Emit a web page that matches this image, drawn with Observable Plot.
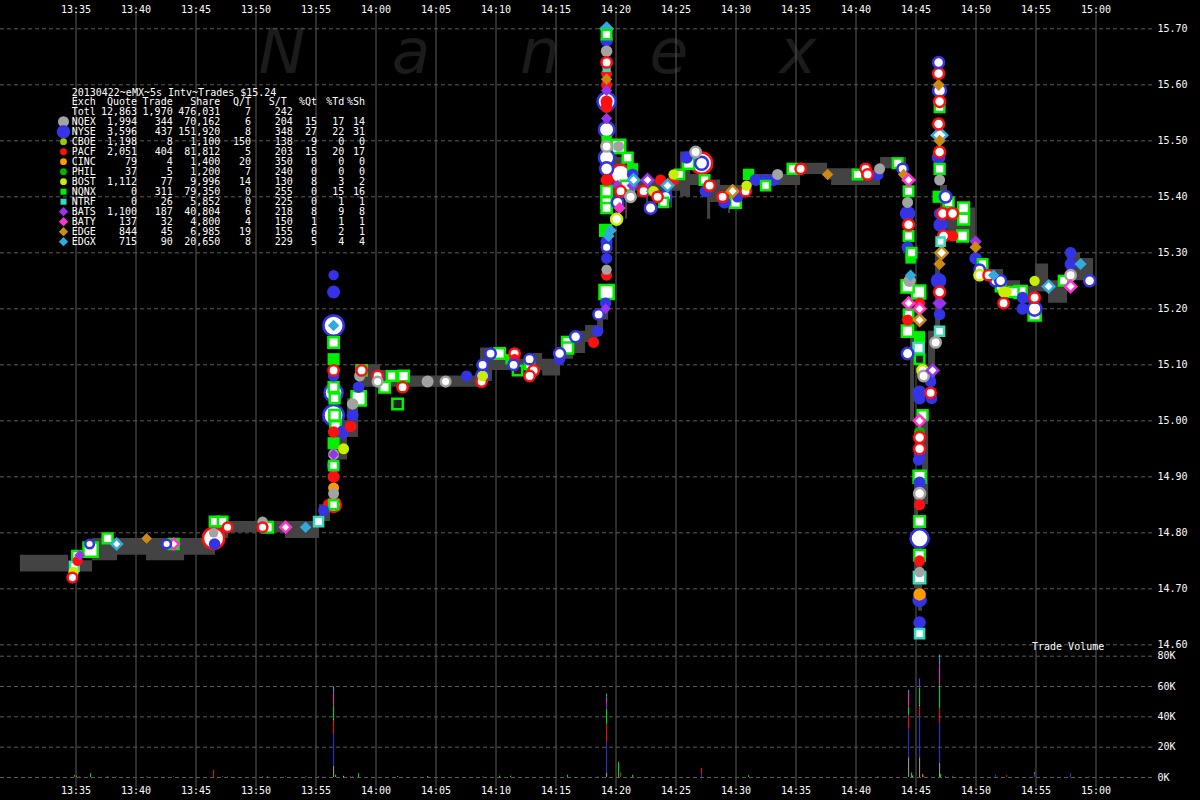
<!DOCTYPE html>
<html><head><meta charset="utf-8">
<script src="https://cdn.jsdelivr.net/npm/d3@7"></script>
<script src="https://cdn.jsdelivr.net/npm/@observablehq/plot@0.6"></script>
<style>
html,body{margin:0;padding:0;background:#000;}
#chart{position:relative;width:1200px;height:800px;background:#000;overflow:hidden;font-family:"DejaVu Sans Mono",monospace;}
#chart > svg, #chart > div{position:absolute;left:0;}
#tv{color:#fff;font:10px "DejaVu Sans Mono",monospace;top:641px;left:1032px !important;}
</style></head><body><div id="chart"></div>
<script>
// ---------- exchanges ----------
const EX = ["NQEX","NYSE","CBOE","PACF","CINC","PHIL","BOST","NQNX","NTRF","BATS","BATY","EDGE","EDGX"];
const EX_COLOR = ["#a3a3a3","#3434e6","#99cc00","#ff1010","#ff9a00","#00b400","#c8ee00","#00f000","#33ddbb","#9933ee","#ff33cc","#cc8a14","#33aadd"];
const EX_SYMBOL = ["circle","circle","circle","circle","circle","circle","circle","square2","square2","diamond2","diamond2","diamond2","diamond2"];

// ---------- legend table ----------
const legTitle = "20130422~eMX~5s Intv~Trades $15.24";
const legHeads = ["Exch","Quote","Trade","Share","Q/T","S/T","%Qt","%Td","%Sh"];
const legTotal = ["Totl",12863,1970,476031,7,242];
const legQuote = [1994,3596,1198,2051,79,37,1112,0,0,1100,137,844,715];
const legTrade = [344,437,8,404,4,5,77,311,26,187,32,45,90];
const legShare = [70162,151920,1100,81812,1400,1200,9996,79350,5852,40804,4800,6985,20650];
const legQT = [6,8,150,5,20,7,14,0,0,6,4,19,8];
const legST = [204,348,138,203,350,240,130,255,225,218,150,155,229];
const legPQt = [15,27,9,15,0,0,8,0,0,8,1,6,5];
const legPTd = [17,22,0,20,0,0,3,15,1,9,1,2,4];
const legPSh = [14,31,0,17,0,0,2,16,1,8,1,1,4];

// ---------- axes ----------
const timeTicks = ["13:35","13:40","13:45","13:50","13:55","14:00","14:05","14:10","14:15","14:20","14:25","14:30","14:35","14:40","14:45","14:50","14:55","15:00"];
const priceTicks = [14.6,14.7,14.8,14.9,15.0,15.1,15.2,15.3,15.4,15.5,15.6,15.7];
const volTicks = [0,20000,40000,60000,80000];

// ---------- NBBO band: [time, bid, ask] ----------
const quotes = [
["13:30:22",14.73,14.76],["13:34:22",14.73,14.75],["13:36:23",14.75,14.79],["13:38:28",14.76,14.79],
["13:40:53",14.75,14.79],["13:44:03",14.76,14.79],["13:46:38",14.79,14.82],["13:47:43",14.80,14.82],
["13:52:28",14.79,14.82],["13:55:18",14.82,14.85],["13:56:13",14.90,14.97],["13:56:48",14.93,15.00],
["13:57:38",14.97,15.04],["13:58:33",15.04,15.10],["13:58:53",15.06,15.10],["14:00:23",15.06,15.09],
["14:01:38",15.06,15.08],["14:08:43",15.07,15.13],["14:09:43",15.09,15.11],["14:13:08",15.09,15.12],
["14:13:53",15.08,15.11],["14:15:23",15.11,15.13],["14:16:28",15.12,15.16],["14:17:28",15.14,15.17],
["14:18:28",15.16,15.20],["14:18:58",15.18,15.21],["14:19:23",15.38,15.49],["14:19:58",15.40,15.47],
["14:20:48",15.36,15.45],["14:20:58",15.41,15.45],["14:21:48",15.40,15.43],["14:22:33",15.37,15.43],
["14:22:43",15.40,15.43],["14:23:43",15.41,15.43],["14:24:33",15.38,15.44],["14:24:43",15.41,15.44],
["14:25:23",15.40,15.48],["14:26:13",15.42,15.44],["14:27:38",15.36,15.43],["14:27:53",15.39,15.43],
["14:28:43",15.41,15.42],["14:29:23",15.37,15.42],["14:29:33",15.41,15.42],["14:31:13",15.42,15.44],
["14:35:23",15.44,15.46],["14:37:38",15.43,15.45],["14:37:58",15.42,15.45],["14:40:08",15.42,15.44],
["14:42:03",15.45,15.47],
["14:44:13",15.30,15.43],["14:44:33",15.00,15.20],["14:44:53",14.70,14.90],["14:45:13",14.66,14.80],
["14:45:33",14.85,15.00],["14:46:03",15.07,15.16],["14:46:38",15.15,15.30],["14:47:03",15.35,15.42],
["14:47:38",15.33,15.39],["14:48:08",15.32,15.38],["14:49:58",15.26,15.28],["14:51:03",15.25,15.27],
["14:52:18",15.22,15.25],["14:53:43",15.21,15.24],["14:54:58",15.23,15.28],["14:56:03",15.21,15.25],
["14:57:38",15.25,15.30],["14:58:43",15.25,15.29],["14:59:48",15.25,15.29]
];

// ---------- trades: [time, price, exchange, shares, kind] (s solid, h open, d dark) ----------
const trades1335 = [
["13:34:42",14.72,"PACF",200,"h"],["13:34:48",14.73,"BOST",300,"s"],["13:34:52",14.74,"NTRF",400,"h"],
["13:35:03",14.76,"NQNX",400,"h"],["13:35:08",14.75,"PACF",300,"s"],["13:35:18",14.76,"BATS",200,"s"],
["13:36:08",14.78,"NYSE",100,"h"],["13:36:13",14.77,"NQNX",2500,"h"],["13:37:38",14.79,"NQNX",700,"h"],
["13:38:23",14.78,"EDGX",200,"h"],["13:40:53",14.79,"EDGE",200,"s"],["13:42:33",14.78,"NYSE",100,"h"],
["13:43:08",14.78,"NQNX",700,"h"],["13:43:08",14.78,"BATY",200,"h"],["13:46:28",14.79,"PACF",4000,"h"],
["13:46:28",14.80,"NQEX",200,"s"],["13:46:33",14.78,"NYSE",500,"s"],["13:46:33",14.82,"NQNX",600,"h"],
["13:47:13",14.82,"NQNX",600,"h"],["13:47:38",14.81,"PACF",200,"h"],["13:50:33",14.82,"NQEX",300,"s"],
["13:50:33",14.81,"PACF",200,"h"],["13:50:58",14.81,"NQNX",900,"h"],["13:52:28",14.81,"BATY",200,"h"],
["13:54:08",14.81,"EDGX",300,"s"],["13:55:13",14.82,"NTRF",500,"h"],["13:55:38",14.84,"NYSE",400,"s"],
["13:56:03",14.85,"PACF",500,"s"]
];
const trades1356 = [
["13:56:28",15.26,"NYSE",300,"s"],["13:56:28",15.23,"NYSE",800,"s"],["13:56:28",15.17,"NYSE",3500,"h"],
["13:56:28",15.17,"EDGX",300,"s"],["13:56:28",15.14,"NQNX",900,"h"],["13:56:28",15.11,"NQNX",1500,"s"],
["13:56:28",15.09,"PACF",300,"h"],["13:56:28",15.08,"NYSE",500,"s"],["13:56:28",15.06,"NQNX",700,"h"],
["13:56:28",15.05,"NYSE",2500,"h"],["13:56:33",15.04,"NQNX",700,"h"],["13:56:28",15.01,"NYSE",3500,"h"],
["13:56:33",15.01,"NQNX",900,"h"],["13:56:38",14.99,"NQNX",900,"h"],["13:56:28",14.98,"PACF",500,"s"],
["13:57:13",14.98,"NYSE",800,"s"],["13:56:28",14.96,"NQNX",1500,"s"],["13:57:18",14.95,"BOST",400,"s"],
["13:56:28",14.94,"NQEX",400,"s"],["13:56:28",14.94,"BATS",200,"s"],["13:56:28",14.92,"NYSE",1000,"s"],
["13:56:28",14.92,"NQNX",500,"h"],["13:56:28",14.90,"PACF",600,"s"],["13:56:28",14.88,"CINC",400,"s"],
["13:56:28",14.87,"NQEX",400,"s"],["13:56:28",14.85,"PACF",1200,"h"],["13:56:28",14.85,"NQNX",500,"h"],
["13:57:53",14.99,"PACF",500,"s"],["13:58:03",15.01,"NYSE",600,"s"],["13:58:03",15.03,"NQEX",500,"s"],
["13:58:33",15.04,"NQNX",2500,"h"],["13:58:33",15.06,"NYSE",500,"s"],["13:58:38",15.08,"NQEX",400,"s"],
["13:58:48",15.09,"NQNX",800,"h"],["13:58:48",15.09,"PACF",300,"h"]
];
const trades1400 = [
["14:00:08",15.08,"PACF",300,"h"],["14:00:08",15.07,"NQEX",200,"h"],["14:00:43",15.06,"NQNX",900,"h"],
["14:01:18",15.08,"NQNX",600,"h"],["14:01:48",15.03,"NQNX",900,"d"],["14:02:13",15.06,"PACF",300,"h"],
["14:02:18",15.08,"NQNX",900,"h"],["14:04:18",15.07,"NQEX",600,"s"],["14:05:48",15.07,"NQEX",200,"h"],
["14:07:33",15.08,"NYSE",400,"s"],["14:08:48",15.07,"PACF",300,"h"],["14:08:53",15.08,"NYSE",800,"h"],
["14:08:53",15.08,"BOST",300,"s"],["14:08:53",15.10,"NYSE",300,"h"],["14:09:33",15.12,"NYSE",300,"h"],
["14:10:18",15.12,"NQNX",900,"h"],["14:11:13",15.11,"NQNX",900,"s"],["14:11:33",15.12,"PACF",300,"h"],
["14:11:33",15.11,"PACF",300,"s"],["14:11:28",15.10,"NYSE",300,"h"],["14:11:48",15.09,"NQNX",600,"d"],
["14:12:48",15.11,"NYSE",300,"h"],["14:12:48",15.10,"NQNX",500,"h"],["14:13:08",15.09,"PACF",300,"h"],
["14:12:48",15.08,"PACF",300,"h"],["14:15:18",15.12,"NYSE",400,"h"],["14:15:18",15.11,"NYSE",500,"s"],
["14:15:58",15.14,"NQNX",1000,"h"],["14:15:58",15.13,"NQNX",1000,"h"],["14:16:38",15.15,"NYSE",400,"h"],
["14:18:08",15.14,"PACF",400,"s"],["14:18:28",15.16,"NYSE",500,"s"],["14:18:33",15.19,"NYSE",300,"h"]
];
const trades1419 = [
["14:19:08",15.21,"NYSE",500,"s"],["14:19:08",15.20,"BATS",200,"s"],["14:19:13",15.23,"NQNX",2500,"h"],
["14:19:13",15.26,"PACF",400,"s"],["14:19:13",15.27,"NQEX",300,"s"],["14:19:13",15.29,"NYSE",400,"s"],
["14:19:13",15.31,"NYSE",200,"h"],["14:19:13",15.32,"NYSE",600,"s"],["14:19:08",15.34,"NQNX",2000,"s"],
["14:19:23",15.33,"EDGX",400,"s"],["14:19:13",15.38,"NQNX",800,"h"],["14:19:13",15.39,"NQNX",900,"h"],
["14:19:13",15.41,"NQNX",900,"h"],["14:19:13",15.43,"PACF",600,"s"],["14:19:13",15.45,"NYSE",800,"h"],
["14:19:13",15.47,"NYSE",1500,"h"],["14:19:13",15.49,"NQEX",300,"h"],["14:19:13",15.50,"NQNX",900,"s"],
["14:19:13",15.52,"NYSE",1500,"h"],["14:19:13",15.54,"BATS",300,"s"],["14:19:13",15.56,"PACF",500,"s"],
["14:19:13",15.57,"NYSE",2500,"h"],["14:19:13",15.57,"PACF",600,"s"],["14:19:13",15.59,"BATS",300,"s"],
["14:19:13",15.60,"PACF",400,"s"],["14:19:13",15.61,"EDGE",300,"s"],["14:19:13",15.62,"PACF",400,"s"],
["14:19:13",15.63,"NTRF",300,"s"],["14:19:13",15.64,"PACF",300,"h"],["14:19:13",15.66,"NQEX",500,"s"],
["14:19:13",15.68,"NYSE",800,"s"],["14:19:13",15.69,"NQNX",600,"h"],["14:19:13",15.70,"EDGX",1000,"s"],
["14:20:13",15.49,"NQNX",2000,"h"],["14:20:13",15.49,"NQEX",400,"s"],["14:20:58",15.47,"NQNX",700,"h"],
["14:20:23",15.44,"PACF",3000,"h"],["14:21:23",15.45,"NQNX",1200,"s"],["14:21:23",15.44,"NYSE",500,"s"],
["14:20:08",15.42,"BATS",300,"s"],["14:20:48",15.42,"NQNX",700,"h"],["14:21:23",15.42,"BATS",400,"s"],
["14:21:28",15.43,"EDGX",300,"h"],["14:20:23",15.41,"PACF",300,"h"],["14:21:03",15.41,"NQNX",800,"h"],
["14:20:08",15.39,"NYSE",500,"h"],["14:20:18",15.38,"BATY",400,"s"],["14:20:03",15.36,"BOST",400,"h"],
["14:19:33",15.34,"EDGX",400,"s"],["14:21:13",15.40,"NQEX",300,"h"]
];
const trades1422 = [
["14:22:18",15.41,"PACF",300,"h"],["14:22:38",15.43,"BATS",300,"h"],["14:22:58",15.41,"EDGX",300,"s"],
["14:22:53",15.38,"NYSE",500,"h"],["14:23:08",15.41,"BOST",300,"s"],["14:23:28",15.40,"PACF",300,"h"],
["14:23:43",15.43,"PACF",400,"s"],["14:24:08",15.40,"NYSE",500,"h"],["14:23:58",15.39,"NQNX",500,"h"],
["14:24:18",15.42,"EDGX",300,"h"],["14:24:48",15.44,"BOST",300,"s"],["14:24:48",15.43,"PACF",500,"s"],
["14:25:18",15.44,"NQNX",500,"h"],["14:25:53",15.47,"NYSE",700,"s"],["14:26:03",15.46,"NQNX",1200,"h"],
["14:26:38",15.48,"NQEX",300,"h"],["14:27:08",15.46,"PACF",4000,"h"],["14:27:08",15.46,"NYSE",800,"h"],
["14:27:23",15.43,"NQNX",600,"h"],["14:27:28",15.41,"NYSE",600,"s"],["14:27:48",15.42,"PACF",300,"h"],
["14:28:53",15.40,"PACF",300,"h"],["14:29:03",15.39,"NYSE",700,"s"],["14:29:43",15.41,"EDGE",300,"h"],
["14:29:58",15.39,"NQNX",900,"h"],["14:30:08",15.40,"NYSE",500,"s"],["14:30:48",15.41,"PACF",300,"h"],
["14:30:53",15.42,"BOST",300,"s"],["14:31:03",15.44,"NQNX",1200,"s"],["14:31:38",15.43,"NYSE",600,"s"],
["14:32:28",15.43,"NYSE",600,"s"],["14:32:28",15.42,"NQNX",500,"h"],["14:33:08",15.43,"NYSE",600,"s"],
["14:33:28",15.44,"NQEX",400,"s"],["14:34:43",15.45,"NQNX",700,"h"],["14:35:23",15.45,"PACF",300,"h"],
["14:37:38",15.44,"EDGE",300,"s"],["14:40:08",15.44,"NQNX",600,"h"],["14:40:48",15.45,"PACF",300,"h"],
["14:40:58",15.44,"PACF",300,"h"],["14:41:48",15.44,"NYSE",600,"s"],["14:41:58",15.45,"NQEX",400,"s"],
["14:43:28",15.46,"NQNX",600,"h"],["14:43:53",15.45,"NYSE",300,"h"],["14:43:58",15.44,"EDGE",300,"s"]
];
const trades1444 = [
["14:44:23",15.43,"BATY",300,"h"],["14:44:23",15.41,"NQNX",600,"h"],["14:44:18",15.39,"NQEX",400,"s"],
["14:44:18",15.37,"NYSE",1500,"s"],["14:44:23",15.35,"PACF",400,"h"],["14:44:23",15.33,"NQNX",600,"h"],
["14:44:18",15.31,"NYSE",600,"s"],["14:44:38",15.30,"NQNX",600,"h"],["14:44:33",15.29,"NQNX",900,"s"],
["14:44:33",15.26,"EDGX",300,"s"],["14:44:28",15.25,"NQEX",700,"s"],["14:44:18",15.24,"NQNX",1500,"h"],
["14:44:23",15.21,"BATY",300,"h"],["14:44:23",15.19,"NQNX",600,"h"],["14:44:18",15.18,"PACF",400,"s"],
["14:44:18",15.16,"NQNX",1200,"h"],["14:44:18",15.12,"NYSE",500,"h"],
["14:45:13",15.23,"NQNX",2000,"h"],["14:45:18",15.21,"PACF",400,"s"],["14:45:18",15.20,"BATY",300,"h"],
["14:45:18",15.18,"EDGE",300,"h"],["14:45:18",15.15,"NQNX",1200,"s"],["14:45:13",15.13,"NTRF",800,"h"],
["14:45:18",15.11,"NQNX",600,"d"],["14:45:33",15.09,"BOST",300,"h"],["14:45:38",15.08,"NQEX",300,"h"],
["14:45:18",15.05,"NYSE",1200,"s"],["14:45:18",15.04,"NYSE",600,"s"],["14:45:33",15.01,"NQNX",700,"h"],
["14:45:18",15.00,"BATY",300,"h"],["14:45:18",14.98,"PHIL",400,"s"],["14:45:18",14.97,"PACF",400,"h"],
["14:45:18",14.95,"PACF",400,"h"],["14:45:18",14.94,"NYSE",600,"s"],["14:45:13",14.93,"NYSE",500,"s"],
["14:45:18",14.90,"NQNX",1500,"h"],["14:45:18",14.89,"NYSE",600,"s"],["14:45:18",14.87,"NQEX",400,"h"],
["14:45:18",14.85,"PACF",400,"s"],["14:45:18",14.82,"NQNX",900,"h"],["14:45:18",14.79,"NYSE",2500,"h"],
["14:45:18",14.76,"NQNX",900,"h"],["14:45:18",14.75,"PACF",400,"s"],["14:45:18",14.73,"NQEX",300,"s"],
["14:45:18",14.72,"NTRF",1200,"h"],["14:45:18",14.69,"CINC",700,"s"],["14:45:18",14.68,"NYSE",1200,"s"],
["14:45:18",14.64,"NYSE",700,"s"],["14:45:18",14.62,"NTRF",500,"h"],
["14:46:13",15.07,"NYSE",500,"s"],["14:46:13",15.05,"PACF",300,"h"],["14:46:18",15.04,"NYSE",500,"s"],
["14:46:23",15.09,"BATS",300,"h"],
["14:46:38",15.14,"NQEX",300,"h"],["14:46:58",15.16,"NTRF",500,"h"],["14:46:58",15.19,"NYSE",500,"s"],
["14:46:58",15.21,"BATS",800,"s"],["14:46:58",15.23,"PACF",400,"h"],["14:46:53",15.25,"NYSE",1500,"s"],
["14:46:58",15.28,"EDGE",400,"s"],["14:47:08",15.30,"EDGE",400,"h"],["14:47:03",15.32,"NTRF",300,"h"],
["14:47:03",15.35,"NYSE",1200,"s"],["14:46:58",15.37,"NYSE",500,"s"],["14:46:53",15.40,"NQNX",1500,"s"],
["14:46:58",15.43,"NQEX",400,"s"],["14:46:58",15.45,"NQNX",700,"h"],["14:46:53",15.47,"NYSE",1000,"s"],
["14:46:58",15.48,"PACF",400,"h"],["14:46:58",15.50,"EDGE",400,"s"],["14:46:58",15.51,"EDGX",1000,"h"],
["14:46:53",15.53,"PACF",400,"h"],["14:46:58",15.56,"NQNX",600,"h"],["14:46:58",15.57,"PACF",400,"h"],
["14:46:58",15.59,"NYSE",800,"h"],["14:46:53",15.60,"EDGE",400,"s"],["14:46:53",15.62,"PACF",400,"h"],
["14:46:53",15.64,"NYSE",400,"h"],
["14:47:28",15.40,"NYSE",500,"h"],["14:47:43",15.39,"NQNX",700,"h"],["14:47:13",15.37,"PACF",400,"h"],
["14:48:03",15.37,"PACF",400,"h"],["14:48:58",15.38,"NQNX",1000,"h"],["14:48:58",15.36,"NQNX",1000,"h"],
["14:48:53",15.33,"NQNX",1000,"h"],["14:48:03",15.33,"PACF",400,"s"],["14:47:18",15.33,"PACF",400,"h"],
["14:49:58",15.32,"BATS",400,"s"],["14:49:58",15.31,"EDGE",400,"s"],["14:49:58",15.29,"NYSE",700,"s"]
];
const trades1450 = [
["14:50:33",15.28,"NQNX",600,"h"],["14:50:18",15.27,"NYSE",300,"h"],["14:50:18",15.26,"BOST",300,"h"],
["14:51:03",15.26,"PACF",300,"h"],["14:51:28",15.26,"EDGX",300,"s"],["14:51:38",15.25,"NYSE",400,"h"],
["14:52:03",15.25,"NYSE",400,"h"],["14:52:03",15.24,"NQNX",600,"h"],["14:52:18",15.23,"BOST",400,"s"],
["14:52:33",15.23,"BOST",300,"s"],["14:52:18",15.21,"PACF",300,"h"],["14:53:08",15.23,"NQNX",700,"h"],
["14:53:43",15.23,"NQNX",1500,"h"],["14:53:53",15.22,"NYSE",500,"s"],["14:53:53",15.20,"NYSE",600,"s"],
["14:54:53",15.25,"BOST",300,"s"],["14:54:53",15.22,"PACF",300,"h"],["14:54:53",15.20,"NYSE",1000,"h"],
["14:54:53",15.19,"NQNX",1500,"h"],["14:56:03",15.24,"EDGX",300,"h"],["14:57:18",15.25,"NQNX",600,"h"],
["14:57:53",15.30,"NYSE",500,"s"],["14:57:53",15.28,"NYSE",600,"s"],["14:57:53",15.26,"NQEX",300,"h"],
["14:57:53",15.24,"BATY",300,"h"],["14:58:43",15.28,"EDGX",400,"s"],["14:59:28",15.25,"NYSE",400,"h"]
];

// ---------- volume: [time, exchange, shares] ----------
const volEarly = [
["13:34:52","PACF",600],["13:34:52","BOST",500],["13:35:03","NQNX",900],["13:35:18","BATS",400],
["13:36:13","NQNX",2500],["13:37:38","NQNX",400],["13:38:23","EDGX",300],["13:40:53","EDGE",300],
["13:42:33","NYSE",200],["13:43:08","NQNX",300],["13:46:28","PACF",4800],["13:47:13","NQNX",400],
["13:47:38","PACF",300],["13:50:33","NQEX",300],["13:50:58","NQNX",400],["13:52:28","BATY",300],
["13:54:08","EDGX",300],["13:55:13","NTRF",300],["13:55:38","NYSE",400],
["13:56:28","NQEX",7300],["13:56:28","NYSE",21000],["13:56:28","PACF",9000],["13:56:28","BOST",1300],
["13:56:28","NQNX",8700],["13:56:28","BATY",8500],["13:56:28","EDGX",4000],
["13:56:38","NQNX",1500],["13:57:18","BOST",800],["13:57:53","PACF",500],["13:58:03","NYSE",600],
["13:58:33","NQNX",2500],["14:01:48","NQNX",600],["14:04:18","NQEX",600],["14:08:53","NYSE",800],
["14:10:18","NQNX",900],["14:11:13","NQNX",900],["14:15:58","NQNX",1500],["14:18:28","NYSE",500]
];
const volLate = [
["14:19:13","NQEX",3000],["14:19:13","NYSE",20000],["14:19:13","PACF",12000],["14:19:13","NQNX",10000],
["14:19:13","BATS",4000],["14:19:13","BATY",3000],["14:19:13","EDGE",1000],["14:19:13","EDGX",2000],
["14:20:13","NQNX",10000],["14:20:23","PACF",3000],["14:21:23","NQNX",1500],["14:27:08","PACF",4000],
["14:27:08","NYSE",2000],["14:31:03","NQNX",1200],["14:41:48","NYSE",600],
["14:44:23","NQEX",13000],["14:44:23","NYSE",18700],["14:44:23","PACF",9300],["14:44:23","NQNX",5500],
["14:44:23","BATY",8900],["14:44:23","EDGX",2000],["14:44:38","NQNX",3000],["14:44:43","NTRF",1000],
["14:45:18","NQEX",13000],["14:45:18","NYSE",27000],["14:45:18","PACF",6700],["14:45:18","BOST",1000],
["14:45:18","NQNX",11300],["14:45:18","BATS",6000],["14:45:33","EDGE",2000],["14:45:38","PACF",1000],
["14:46:58","NQEX",9500],["14:46:58","NYSE",26000],["14:46:58","PACF",10000],["14:46:58","NQNX",15000],
["14:46:58","BATY",13000],["14:46:58","EDGX",7300],["14:47:03","NQNX",2000],["14:47:28","NYSE",800],
["14:48:03","PACF",800],["14:51:38","NYSE",1500],["14:52:33","PACF",1200],["14:54:53","NYSE",2000],
["14:54:53","NQNX",1200],["14:57:53","NYSE",2500],["14:59:28","NYSE",600]
];

// ---------- build ----------
const parseT = d3.utcParse("%H:%M:%S");
const parseHM = d3.utcParse("%H:%M");
const fmtHM = d3.utcFormat("%H:%M");
const colorOf = Object.fromEntries(EX.map((e, i) => [e, EX_COLOR[i]]));
const ticksT = timeTicks.map(parseHM);
const xDomain = [new Date(+parseT("13:28:45") - 2500), new Date(+parseT("15:04:50") - 2500)];

const band = quotes.map(([t, bid, ask]) => ({t: parseT(t), bid, ask}));
const trades = [...trades1335, ...trades1356, ...trades1400, ...trades1419, ...trades1422, ...trades1444, ...trades1450]
  .map(([t, p, ex, sh, k]) => ({t: parseT(t), p, ex, sh, k}));
const vol = [...volEarly, ...volLate].map(([t, ex, sh]) => ({t: parseT(t), ex, sh}));

const GRID = "#5c5c5c";
const baseStyle = {background: "transparent", color: "#fff", fontFamily: "DejaVu Sans Mono, monospace", fontSize: "10px"};
const chart = document.getElementById("chart");

// watermark
const wm = d3.select(chart).append("svg").attr("width", 1200).attr("height", 120).style("top", "0px");
wm.selectAll("text").data(["N","a","n","e","x"]).join("text")
  .attr("x", (d, i) => 282 + i * 129).attr("y", 73)
  .attr("text-anchor", "middle").attr("font-family", "DejaVu Sans").attr("font-style", "italic")
  .attr("font-size", 63).attr("fill", "#1b1b1b").text(d => d);

const price = Plot.plot({
  width: 1200, height: 650,
  marginLeft: 0, marginRight: 47, marginTop: 28.3, marginBottom: 5.7,
  style: baseStyle,
  x: {type: "utc", domain: xDomain, axis: null},
  y: {domain: [14.6, 15.7], axis: null},
  r: {type: "sqrt", domain: [100, 5000], range: [4.3, 11.5], clamp: true},
  symbol: {domain: EX, range: EX_SYMBOL},
  color: {type: "identity"},
  marks: [
    Plot.ruleY(priceTicks, {y: d => d, stroke: GRID, strokeDasharray: "4,3"}),
    Plot.ruleX(ticksT, {x: d => d, stroke: GRID, insetTop: -16.3, insetBottom: -5.7}),
    Plot.areaY(band, {x: "t", y1: "bid", y2: "ask", curve: "step-after", fill: "#434343"}),
    Plot.dot(trades, {
      x: "t", y: "p", r: "sh", symbol: "ex",
      fill: d => d.k === "s" ? colorOf[d.ex] : d.k === "d" ? "#1e1e1e" : "#ffffff",
      stroke: d => d.k === "s" ? "none" : colorOf[d.ex],
      strokeWidth: 2.5
    }),
    Plot.text(priceTicks, {y: d => d, text: d => d.toFixed(2), frameAnchor: "right", textAnchor: "start", dx: 4, fill: "#fff"}),
    Plot.text(ticksT, {x: d => d, text: d => fmtHM(d), frameAnchor: "top", dy: -22.8, fill: "#fff"})
  ]
});
price.style.top = "0px";
chart.appendChild(price);

const volume = Plot.plot({
  width: 1200, height: 160,
  marginLeft: 0, marginRight: 47, marginTop: 15.7, marginBottom: 23,
  style: baseStyle,
  x: {type: "utc", domain: xDomain, axis: null},
  y: {domain: [0, 80000], axis: null},
  color: {type: "identity"},
  marks: [
    Plot.ruleY(volTicks, {y: d => d, stroke: GRID, strokeDasharray: "4,3"}),
    Plot.ruleX(ticksT, {x: d => d, stroke: GRID, insetTop: -5.7, insetBottom: -10}),
    Plot.rectY(vol, Plot.stackY({
      x1: "t", x2: d => new Date(+d.t + 5000), y: "sh", z: "ex", order: EX,
      fill: d => colorOf[d.ex]
    })),
    Plot.text(volTicks, {y: d => d, text: d => d / 1000 + "K", frameAnchor: "right", textAnchor: "start", dx: 4, fill: "#fff"}),
    Plot.text(ticksT, {x: d => d, text: d => fmtHM(d), frameAnchor: "bottom", dy: 16.7, fill: "#fff"})
  ]
});
volume.style.top = "640px";
chart.appendChild(volume);

const tv = document.createElement("div");
tv.id = "tv"; tv.textContent = "Trade Volume";
chart.appendChild(tv);

// legend table
const lg = d3.select(chart).append("svg").attr("width", 400).attr("height", 260).style("top", "0px")
  .attr("font-family", "DejaVu Sans Mono").attr("font-size", 10).attr("fill", "#fff");
const rowY = i => 121.7 + 10 * i;
const colR = [137, 172.7, 220.3, 251, 292.7, 317, 344.3, 365];
const fmtN = d3.format(",");
function addText(x, y, s, anchor) {
  lg.append("text").attr("x", x).attr("y", y).attr("dy", "0.35em").attr("text-anchor", anchor).text(s);
}
addText(71.7, 92, legTitle, "start");
addText(71.7, 101.7, legHeads[0], "start");
legHeads.slice(1).forEach((h, j) => addText(j === 4 ? 286.7 : colR[j], 101.7, h, "end"));
addText(71.7, 111.7, legTotal[0], "start");
legTotal.slice(1).forEach((v, j) => addText(colR[j], 111.7, fmtN(v), "end"));
EX.forEach((e, i) => {
  const y = rowY(i);
  addText(71.7, y, e, "start");
  [legQuote[i], legTrade[i], legShare[i], legQT[i], legST[i], legPQt[i], legPTd[i], legPSh[i]]
    .forEach((v, j) => addText(colR[j], y, fmtN(v), "end"));
  const big = i === 0 ? 5.5 : i === 1 ? 6.8 : 3.4;
  const sym = EX_SYMBOL[i] === "circle" ? d3.symbolCircle : EX_SYMBOL[i] === "square2" ? d3.symbolSquare : d3.symbolDiamond2;
  const size = EX_SYMBOL[i] === "square2" ? 36 : EX_SYMBOL[i] === "diamond2" ? 55 : Math.PI * big * big;
  lg.append("path").attr("d", d3.symbol(sym, size)()).attr("transform", `translate(63.5,${y})`).attr("fill", EX_COLOR[i]);
});
</script>
</body></html>
